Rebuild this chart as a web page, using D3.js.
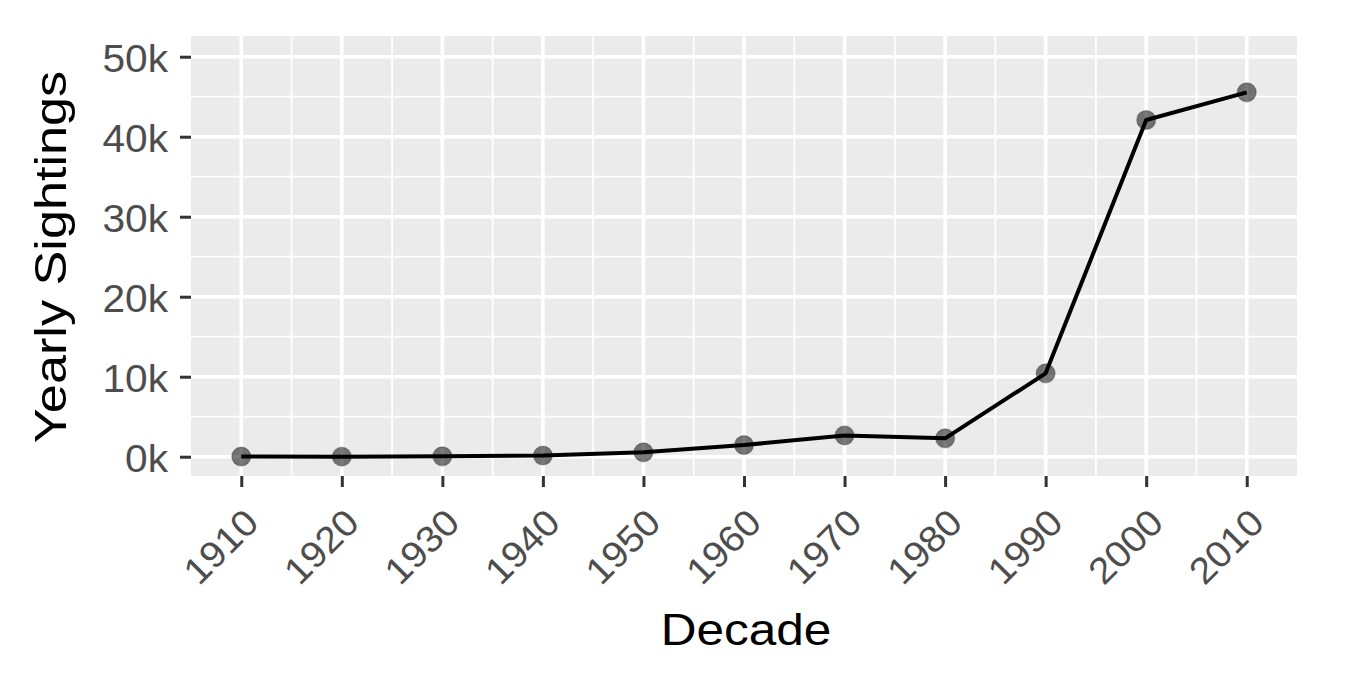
<!DOCTYPE html>
<html>
<head>
<meta charset="utf-8">
<script src="https://cdn.jsdelivr.net/npm/d3@7"></script>
<style>
  html, body { margin: 0; padding: 0; background: #fff; }
  svg { display: block; }
</style>
</head>
<body>
<svg id="chart" width="1362" height="680"></svg>
<script>
// ---- Data ----
const decades = [1910, 1920, 1930, 1940, 1950, 1960, 1970, 1980, 1990, 2000, 2010];
const sightings = [20, 10, 50, 150, 550, 1460, 2660, 2300, 10420, 42090, 45550];
const yTicks = [0, 10000, 20000, 30000, 40000, 50000];
const yTickLabels = ["0k", "10k", "20k", "30k", "40k", "50k"];
const xTitle = "Decade";
const yTitle = "Yearly Sightings";

// ---- Layout ----
const panel = { left: 191, top: 36, right: 1297, bottom: 476 };
const FONT = "'Liberation Sans', Arial, sans-serif";

const svg = d3.select("#chart");

const x = d3.scaleLinear().domain([1905, 2015]).range([panel.left, panel.right]);
const y = d3.scaleLinear().domain([-2410, 52590]).range([panel.bottom, panel.top]);

// panel background
svg.append("rect")
  .attr("x", panel.left).attr("y", panel.top)
  .attr("width", panel.right - panel.left).attr("height", panel.bottom - panel.top)
  .attr("fill", "#EBEBEB");

const grid = svg.append("g");
const xMinor = decades.slice(0, -1).map(d => d + 5);
const yMinor = yTicks.slice(0, -1).map(d => d + 5000);
grid.selectAll("line.xmin").data(xMinor).join("line")
  .attr("x1", d => x(d)).attr("x2", d => x(d))
  .attr("y1", panel.top).attr("y2", panel.bottom)
  .attr("stroke", "#fff").attr("stroke-width", 1.8);
grid.selectAll("line.ymin").data(yMinor).join("line")
  .attr("y1", d => y(d)).attr("y2", d => y(d))
  .attr("x1", panel.left).attr("x2", panel.right)
  .attr("stroke", "#fff").attr("stroke-width", 1.8);
grid.selectAll("line.xmaj").data(decades).join("line")
  .attr("x1", d => x(d)).attr("x2", d => x(d))
  .attr("y1", panel.top).attr("y2", panel.bottom)
  .attr("stroke", "#fff").attr("stroke-width", 3.6);
grid.selectAll("line.ymaj").data(yTicks).join("line")
  .attr("y1", d => y(d)).attr("y2", d => y(d))
  .attr("x1", panel.left).attr("x2", panel.right)
  .attr("stroke", "#fff").attr("stroke-width", 3.6);

// y axis
const yAxis = d3.axisLeft(y).tickValues(yTicks)
  .tickFormat((d, i) => yTickLabels[i]).tickSize(11).tickPadding(0);
const gy = svg.append("g").attr("transform", `translate(${panel.left},0)`).call(yAxis);
gy.select(".domain").remove();
gy.selectAll(".tick line").attr("stroke", "#333").attr("stroke-width", 3);
gy.selectAll(".tick text")
  .attr("fill", "#4D4D4D")
  .style("font-family", FONT)
  .style("font-size", "38px")
  .attr("x", 0)
  .attr("dy", "0.36em")
  .attr("transform", "translate(-23,1) scale(1.07,1)");

// x axis
const xAxis = d3.axisBottom(x).tickValues(decades).tickFormat(d3.format("d")).tickSize(11).tickPadding(0);
const gx = svg.append("g").attr("transform", `translate(0,${panel.bottom})`).call(xAxis);
gx.select(".domain").remove();
gx.selectAll(".tick line").attr("stroke", "#333").attr("stroke-width", 3);
gx.selectAll(".tick text")
  .attr("fill", "#4D4D4D")
  .style("font-family", FONT)
  .style("font-size", "37px")
  .attr("text-anchor", "end")
  .attr("y", 0).attr("dy", "0.72em")
  .attr("transform", "translate(0,30) rotate(-45) scale(1.06,1)");

// line
const pts = decades.map((d, i) => [d, sightings[i]]);
svg.append("path")
  .datum(pts)
  .attr("fill", "none")
  .attr("stroke", "#000")
  .attr("stroke-width", 4)
  .attr("stroke-linejoin", "round")
  .attr("d", d3.line().x(d => x(d[0])).y(d => y(d[1])));

// points
svg.append("g").selectAll("circle").data(pts).join("circle")
  .attr("cx", d => x(d[0])).attr("cy", d => y(d[1]))
  .attr("r", 9.5)
  .attr("fill", "#000").attr("fill-opacity", 0.52)
  .attr("stroke", "#000").attr("stroke-opacity", 0.25).attr("stroke-width", 1.2);

// titles
svg.append("text")
  .attr("transform", `translate(${(panel.left + panel.right) / 2 + 2},645) scale(1.1,1)`)
  .attr("text-anchor", "middle")
  .style("font-family", FONT)
  .style("font-size", "45px")
  .attr("fill", "#000")
  .text(xTitle);

svg.append("text")
  .attr("transform", `translate(66,${(panel.top + panel.bottom) / 2 + 1}) rotate(-90) scale(1.16,1)`)
  .attr("text-anchor", "middle")
  .style("font-family", FONT)
  .style("font-size", "45px")
  .attr("fill", "#000")
  .text(yTitle);
</script>
</body>
</html>
